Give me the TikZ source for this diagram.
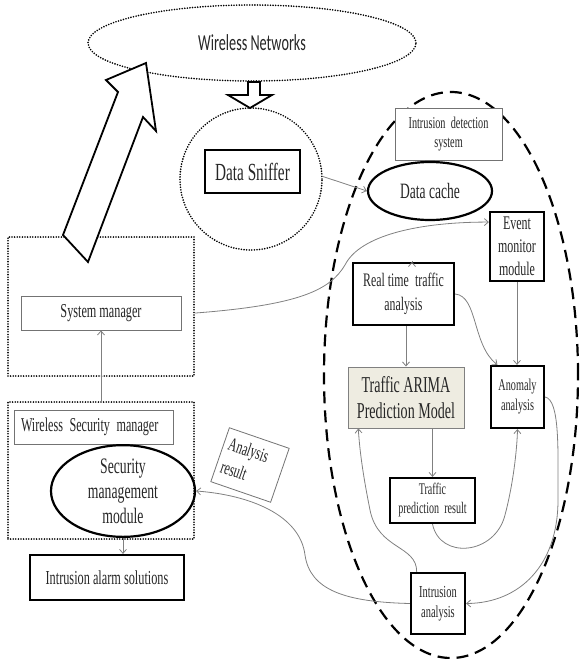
\documentclass[tikz,border=0pt]{standalone}
\usepackage{fontspec}
\setmainfont{Liberation Serif}[FakeStretch=0.62]
\newfontfamily\netfont{Carlito}[FakeStretch=0.62]
\newfontfamily\plainserif{Liberation Serif}
\usepackage{tikz}
\usetikzlibrary{arrows.meta,%
		calc,%
		shapes.geometric}
\definecolor{arimafill}{HTML}{EEECE1}
\newcommand{\fs}[2]{\fontsize{#1}{#2}\selectfont}

\begin{document}
\begin{tikzpicture}[x=1pt,y=-1pt,text=black!85,
	spessa/.style={draw,line width=2.2pt,inner sep=0pt,align=center},
	sottile/.style={draw=black!55,line width=0.8pt,inner sep=0pt,align=center,fill=white},
	puntini/.style={draw,line width=1.8pt,dash pattern=on 0pt off 2.6pt,line cap=round},
	freccia/.style={draw=black!50,line width=0.8pt,-{Straight Barb[length=4pt,width=7pt]}},
	vuota/.style={draw,line width=1.8pt,fill=white,line join=miter}]
\useasboundingbox (0,0) rectangle (579,659);

%la rete e lo sniffer
\node[puntini,ellipse,minimum width=328pt,minimum height=76pt,font=\netfont\fs{22.9}{26}] (net) at (252,43) {Wireless Networks};
\node[puntini,circle,minimum size=142pt] (ring) at (251,179) {};
\node[spessa,minimum width=95pt,minimum height=43pt,font=\fs{24.6}{28}] (sniffer) at (252.5,171.5) {Data Sniffer};
\draw[vuota] (248,82) -- (260,82) -- (260,95) -- (272,95) -- (250,108) -- (228,95) -- (248,95) -- cycle;

%il sistema di rilevamento
\node[draw,ellipse,line width=2.2pt,dash pattern=on 12pt off 7pt,minimum width=254pt,minimum height=566pt] (ids) at (451,375) {};
\node[sottile,minimum width=107pt,minimum height=52pt,font=\fs{16.5}{19}] (idslabel) at (448.5,134) {Intrusion\, detection\\system};
\node[spessa,ellipse,minimum width=124pt,minimum height=58pt,font=\fs{21.9}{24}] (cache) at (430,191) {Data cache};
\node[spessa,minimum width=54pt,minimum height=69pt,font=\fs{19.3}{23}] (event) at (517,246.5) {Event\\monitor\\module};
\node[spessa,minimum width=101pt,minimum height=62pt,font=\fs{19.1}{24}] (realtime) at (403.5,294) {Real time\, traffic\\analysis};
\node[draw=black!50,fill=arimafill,line width=1pt,inner sep=0pt,align=center,minimum width=116pt,minimum height=61pt,font=\fs{22.7}{26}] (arima) at (406,397.5) {Traffic ARIMA\\Prediction Model};
\node[spessa,minimum width=53pt,minimum height=62pt,font=\fs{16.5}{20}] (anomaly) at (517.5,397) {Anomaly\\analysis};
\node[spessa,minimum width=85pt,minimum height=45pt,font=\fs{16.2}{19}] (predict) at (432.5,500.5) {Traffic\\prediction\, result};
\node[spessa,minimum width=54pt,minimum height=61pt,font=\fs{16.8}{20}] (intrusion) at (438,603.5) {Intrusion\\analysis};

%i gestori
\node[puntini,rectangle,minimum width=186pt,minimum height=139pt] (sysframe) at (101,306.5) {};
\node[sottile,minimum width=160pt,minimum height=34pt,font=\fs{19.7}{22}] (sysman) at (101,313) {System manager};
\node[puntini,rectangle,minimum width=186pt,minimum height=137pt] (secframe) at (101,470.5) {};
\node[sottile,text width=145pt,inner xsep=7pt,align=left,minimum height=34pt,font=\fs{19.6}{22}] (wsm) at (93.5,427) {Wireless Security manager};
\node[spessa,ellipse,minimum width=144pt,minimum height=78pt,font=\fs{22.1}{25}] (secmod) at (123,491) {Security\\management\\module};
\node[spessa,minimum width=154pt,minimum height=45pt,font=\fs{19.8}{22}] (alarm) at (107,577.5) {Intrusion alarm solutions};
\node[sottile,rotate=-19,minimum width=62pt,minimum height=57pt,inner xsep=5pt,anchor=center] (result) at (250,465)
	{\scalebox{0.62}[1]{\plainserif\fs{19}{24}\begin{tabular}{@{}l@{}}Analysis\\result\end{tabular}}\hspace{12pt}};
\draw[vuota] (146,63) -- (156,131) -- (143,117) -- (88,262) -- (63,235) -- (118,92) -- (106,80) -- cycle;

%le frecce
\draw[freccia] (ring.2) -- (cache.west);
\draw[freccia] ($(realtime.north)+(8.5,0)$ |- cache.south) -- ($(realtime.north)+(8.5,0)$);
\draw[freccia] (sysframe.-4) .. controls (300,305) and (330,290) .. (345,265) .. controls (360,235) and (420,222) .. (event.139);
\draw[freccia] (event.south) -- (event.south |- anomaly.north);
\draw[freccia] (arima.north |- realtime.south) -- (arima.north);
\draw[freccia] (realtime.east) .. controls (478,296) and (472,345) .. (anomaly.122);
\draw[freccia] (predict.north |- arima.south) -- (predict.north);
\draw[freccia] (predict.south) .. controls (440,560) and (495,555) .. (505,515) .. controls (513,485) and (517,450) .. (anomaly.south);
\draw[freccia] (anomaly.east) .. controls (560,400) and (558,450) .. (558,500) .. controls (558,565) and (520,603) .. (intrusion.east);
\draw[freccia] (intrusion.124) .. controls (417,545) and (378,550) .. (370,510) .. controls (364,480) and (360,455) .. (arima.213);
\draw[freccia] (intrusion.west) .. controls (345,602) and (310,590) .. (305,555) .. controls (300,515) and (250,495) .. (secmod.east);
\draw[freccia] (secframe.north) -- (sysman.south);
\draw[freccia] (secmod.south) -- (secmod.south |- alarm.north);

\end{tikzpicture}
\end{document}
